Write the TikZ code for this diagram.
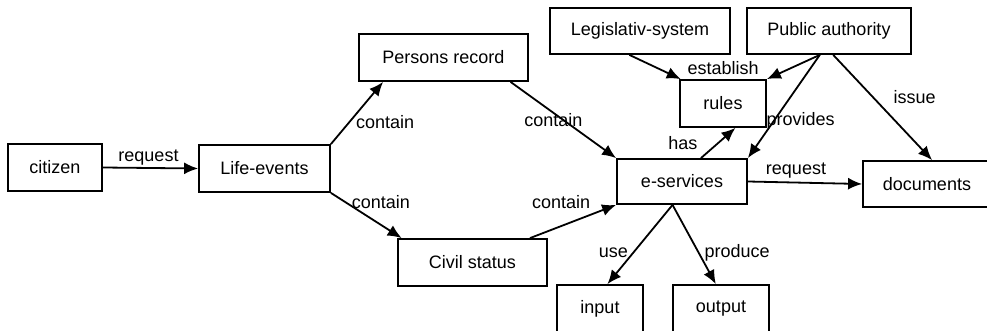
\documentclass[tikz,border=0pt]{standalone}
\usepackage{fontspec}
\setmainfont{Liberation Sans}
\usetikzlibrary{arrows.meta}

\begin{document}
\begin{tikzpicture}[x=0.5pt, y=-0.5pt, line width=0.9pt, ->,
        >={Latex[length=7pt,width=6pt]},
        every node/.append style={font=\fontsize{9}{11}\selectfont}]
      \tikzstyle{entity} = [draw, rectangle, minimum height=23.5pt, inner sep=0pt]
      \tikzstyle{rel} = [inner sep=3pt]
      \useasboundingbox (0,0) rectangle (987,331);
      % boxes
      \node (citizen) [entity, minimum width=47pt] at (55,167.5) {citizen};
      \node (life) [entity, minimum width=65.5pt] at (264.5,168.5) {Life-events};
      \node (persons) [entity, minimum width=84.5pt] at (443.5,57.5) {Persons record};
      \node (civil) [entity, minimum width=74.5pt] at (472.5,262.5) {Civil status};
      \node (legis) [entity, minimum width=90pt, minimum height=23pt] at (640,31) {Legislativ-system};
      \node (public) [entity, minimum width=82pt, minimum height=23pt] at (829,31) {Public authority};
      \node (rules) [entity, minimum width=43pt] at (723,103.5) {rules};
      \node (eserv) [entity, minimum width=65pt, minimum height=22.5pt] at (682,181.5) {e-services};
      \node (docs) [entity, minimum width=64pt, minimum height=23pt] at (927,184) {documents};
      \node (input) [entity, minimum width=43pt] at (600,308.5) {input};
      \node (output) [entity, minimum width=48pt] at (721,308.5) {output};
      % relations
      \draw (citizen.east) -- (life.west) node [rel, midway, above, xshift=-1pt, yshift=-2pt] {request};
      \draw (life.north east) -- (persons.202) node [rel, pos=0.35, right] {contain};
      \draw (life.south east) -- (civil.161) node [rel, pos=0.2, right] {contain};
      \draw (persons.340) -- (eserv.north west) node [rel, midway, xshift=-5pt] {contain};
      \draw (civil.23) -- (eserv.south west) node [rel, midway, above, xshift=-6pt, yshift=3pt] {contain};
      \draw (legis.246) -- (rules.150);
      \draw (public.249) -- (rules.north east) node [rel, pos=0.95, above left, xshift=-2pt, yshift=-2pt] {establish};
      \draw (public.249) -- (eserv.north east) node [rel, pos=0.6, xshift=12pt, yshift=-2pt] {provides};
      \draw (public.280) -- (docs.78) node [rel, pos=0.4, right=7pt] {issue};
      \draw (eserv.51) -- (rules.297) node [rel, midway, left=7pt] {has};
      \draw (eserv.east) -- (docs.west) node [rel, midway, above, xshift=-4.5pt, yshift=-1pt] {request};
      \draw (eserv.248) -- (input.73) node [rel, pos=0.58, left, yshift=-1pt] {use};
      \draw (eserv.248) -- (output.102) node [rel, pos=0.58, right, yshift=-1pt] {produce};
    \end{tikzpicture}
\end{document}
